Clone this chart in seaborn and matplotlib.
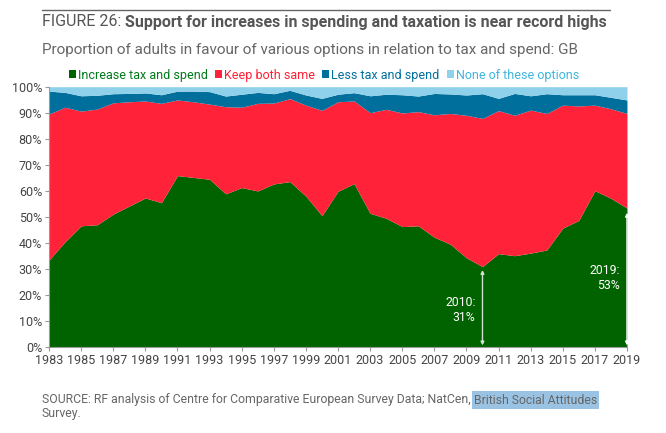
import matplotlib
matplotlib.use("Agg")
import matplotlib.pyplot as plt
import seaborn as sns
import numpy as np
import pandas as pd
from matplotlib.patches import Patch

years = list(range(1983, 2020))
# cumulative tops (%)
increase = [33.3, 40.4, 46.5, 46.9, 51.0, 54.1, 57.2, 55.4, 65.8, 65.1, 64.4, 58.8, 61.2, 59.9,
            62.6, 63.5, 57.9, 50.4, 59.8, 62.7, 51.3, 49.4, 46.2, 46.5, 42.1, 39.4, 34.2, 30.8,
            35.8, 35.0, 36.0, 37.2, 45.6, 48.6, 60.0, 57.1, 53.3]
top_same = [89.5, 92.1, 90.6, 91.4, 93.8, 94.2, 94.5, 93.6, 94.9, 94.2, 93.3, 92.3, 92.1, 93.6,
            93.7, 95.4, 92.9, 90.9, 94.2, 94.5, 90.0, 91.3, 89.9, 90.4, 89.2, 89.7, 89.0, 87.8,
            90.8, 89.0, 91.0, 89.7, 92.9, 92.6, 92.9, 91.5, 89.7]
top_less = [98.3, 97.8, 96.5, 96.7, 97.3, 97.4, 97.6, 96.9, 98.3, 98.3, 98.1, 96.4, 97.1, 97.8,
            97.3, 98.6, 96.8, 95.5, 97.1, 97.7, 96.5, 97.1, 96.9, 96.4, 97.4, 97.2, 96.8, 97.3,
            95.5, 97.4, 96.5, 97.3, 96.9, 96.9, 96.9, 95.9, 94.9]

same = [round(b - a, 1) for a, b in zip(increase, top_same)]
less = [round(b - a, 1) for a, b in zip(top_same, top_less)]
none_opt = [round(100 - b, 1) for b in top_less]

series_names = ["Increase tax and spend", "Keep both same", "Less tax and spend", "None of these options"]
colors = ["#006300", "#ff2239", "#006f9b", "#8fd0ea"]
legend_text_colors = ["#007a1a", "#ff1f35", "#00709c", "#3fb6e0"]

xticks = list(range(1983, 2020, 2))
yticks = list(range(0, 101, 10))

df = pd.DataFrame({"year": years, series_names[0]: increase, series_names[1]: same,
                   series_names[2]: less, series_names[3]: none_opt})

sns.set_theme(style="white")
plt.rcParams['font.family'] = ['Roboto', 'DejaVu Sans']

fig = plt.figure(figsize=(6.66, 4.33), dpi=100)
ax = fig.add_axes([0.0736, 0.1993, 0.8678, 0.6005])

ax.stackplot(df["year"], *[df[n] for n in series_names], colors=colors, labels=series_names, lw=0)
ax.set_xlim(1983, 2019)
ax.set_ylim(0, 100)
ax.set_xticks(xticks)
ax.set_xticklabels([str(x) for x in xticks])
ax.set_yticks(yticks)
ax.set_yticklabels([f"{y}%" for y in yticks])
for s in ["top", "right"]:
    ax.spines[s].set_visible(False)
for s in ["left", "bottom"]:
    ax.spines[s].set_color("#999999")
    ax.spines[s].set_linewidth(0.8)
ax.tick_params(axis="both", which="both", direction="out", length=3, width=0.8, color="#999999",
               labelsize=9, labelcolor="#444444", pad=2, left=True, bottom=True)

# annotations
for yr, val, ly, lbl, acol in [(2010, 31, 14, "2010:\n31%", "#cfe2cf"), (2019, 53, 26.4, "2019:\n53%", "white")]:
    ax.annotate("", xy=(yr, 0.5), xytext=(yr, val - 1.5),
                arrowprops=dict(arrowstyle="<|-|>", color=acol, lw=1.0, mutation_scale=5,
                                shrinkA=0, shrinkB=0))
    ax.annotate(lbl, xy=(yr, ly), xytext=(-5, 0), textcoords="offset points",
                ha="right", va="center", color="white", fontsize=8.8, linespacing=1.2)

# legend
handles = [Patch(facecolor=c, edgecolor="none") for c in colors]
leg = fig.legend(handles, series_names, loc="center", bbox_to_anchor=(324 / 666, 1 - 75 / 433),
                 ncol=4, frameon=False, fontsize=9.0, handlelength=0.55, handleheight=0.55,
                 handletextpad=0.15, columnspacing=0.6, labelcolor=legend_text_colors,
                 borderaxespad=0, borderpad=0)

# title rule
fig.add_artist(plt.Line2D([42 / 666, 610 / 666], [1 - 10 / 433, 1 - 10 / 433], color="#666666", lw=1.0))
fig.canvas.draw()
renderer = fig.canvas.get_renderer()


def seq_text(x_px, y_px, parts, **kw):
    x = x_px
    arts = []
    for txt, opts in parts:
        t = fig.text(x / 666, 1 - y_px / 433, txt, va="center", ha="left", **kw, **opts)
        bb = t.get_window_extent(renderer=renderer)
        x = bb.x1
        arts.append(t)
    return arts

seq_text(42, 22, [("FIGURE 26: ", dict(fontweight="normal")),
                  ("Support for increases in spending and taxation is near record highs", dict(fontweight="bold"))],
         fontsize=11.5, color="#555555")
fig.text(42 / 666, 1 - 50 / 433, "Proportion of adults in favour of various options in relation to tax and spend: GB",
         fontsize=11, color="#666666", va="center", ha="left")

seq_text(42, 400, [("SOURCE: RF analysis of Centre for Comparative European Survey Data; NatCen, ", {}),
                   ("British Social Attitudes", dict(bbox=dict(facecolor="#9ac3e3", edgecolor="none", pad=1.5)))],
         fontsize=8.8, color="#666666")
fig.text(42 / 666, 1 - 413 / 433, "Survey.", fontsize=8.8, color="#666666", va="center", ha="left")

fig.savefig("out.png", dpi=100, facecolor="white")
